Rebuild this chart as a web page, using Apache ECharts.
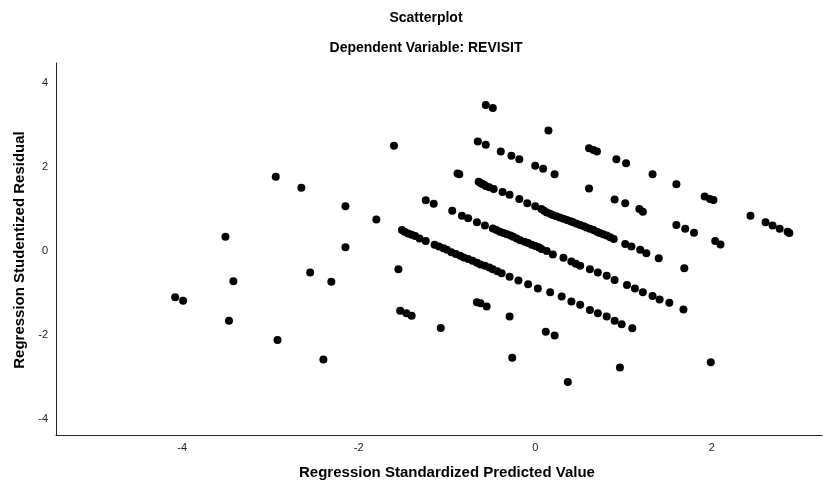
<!DOCTYPE html>
<html>
<head>
<meta charset="utf-8">
<script src="https://cdn.jsdelivr.net/npm/echarts@6/dist/echarts.min.js"></script>
<style>html,body{margin:0;padding:0;background:#fff}#c{width:823px;height:486px}</style>
</head>
<body>
<div id="c"></div>
<script>
var xTicks = [-4, -2, 0, 2];
var yTicks = [-4, -2, 0, 2, 4];

var bandA = [[-0.64,1.64],[-0.62,1.61],[-0.60,1.59],[-0.58,1.57],[-0.56,1.54],[-0.52,1.51],[-0.47,1.47],[-0.37,1.40],[-0.29,1.33],[-0.18,1.23],[-0.09,1.13],[0.00,1.06],[0.07,0.99],[0.10,0.95],[0.13,0.91],[0.17,0.88],[0.20,0.85],[0.24,0.82],[0.28,0.79],[0.32,0.76],[0.36,0.73],[0.40,0.70],[0.43,0.68],[0.47,0.64],[0.51,0.61],[0.55,0.58],[0.58,0.55],[0.62,0.52],[0.66,0.49],[0.70,0.45],[0.73,0.42],[0.77,0.39],[0.81,0.36],[0.85,0.32],[0.89,0.28],[1.02,0.16],[1.09,0.10],[1.19,0.02],[1.26,-0.06],[1.40,-0.18]];

var bandB = [[-0.94,0.95],[-0.83,0.83],[-0.76,0.77],[-0.66,0.68],[-0.57,0.60],[-0.48,0.53],[-0.44,0.49],[-0.40,0.45],[-0.36,0.42],[-0.32,0.39],[-0.28,0.36],[-0.25,0.33],[-0.21,0.29],[-0.17,0.25],[-0.12,0.21],[-0.08,0.18],[-0.04,0.14],[0.00,0.11],[0.04,0.08],[0.07,0.04],[0.13,-0.01],[0.20,-0.09],[0.32,-0.17],[0.41,-0.26],[0.46,-0.31],[0.51,-0.36],[0.62,-0.44],[0.71,-0.52],[0.81,-0.60],[0.90,-0.70],[1.04,-0.82],[1.13,-0.90],[1.22,-0.99],[1.33,-1.08],[1.41,-1.16],[1.52,-1.24],[1.68,-1.40]];

var bandC = [[-1.51,0.49],[-1.48,0.45],[-1.44,0.41],[-1.40,0.38],[-1.36,0.35],[-1.31,0.29],[-1.24,0.23],[-1.14,0.14],[-1.09,0.10],[-1.04,0.06],[-1.00,0.02],[-0.95,-0.04],[-0.90,-0.08],[-0.85,-0.12],[-0.81,-0.16],[-0.76,-0.20],[-0.71,-0.24],[-0.66,-0.29],[-0.62,-0.33],[-0.57,-0.36],[-0.52,-0.40],[-0.48,-0.44],[-0.43,-0.49],[-0.38,-0.54],[-0.29,-0.62],[-0.19,-0.71],[-0.08,-0.80],[0.03,-0.90],[0.17,-0.99],[0.30,-1.09],[0.41,-1.21],[0.51,-1.29],[0.62,-1.41],[0.71,-1.49],[0.81,-1.57],[0.90,-1.67],[0.98,-1.75],[1.10,-1.85]];

var scattered = [[-4.08,-1.11],[-3.99,-1.19],[-3.42,-0.73],[-3.47,-1.67],[-2.92,-2.13],[-2.55,-0.52],[-2.31,-0.74],[-2.40,-2.59],[-1.55,-0.44],[-1.53,-1.43],[-1.46,-1.49],[-1.40,-1.55],[-1.07,-1.84],
[-3.51,0.33],[-2.94,1.76],[-2.65,1.50],[-2.15,1.06],[-2.15,0.08],[-1.80,0.74],[-1.60,2.50],[-1.24,1.20],[-1.15,1.12],
[-0.56,3.47],[-0.48,3.40],[0.15,2.86],[-0.65,2.60],[-0.56,2.52],[-0.39,2.36],[-0.27,2.26],[-0.18,2.18],[0.00,2.02],[0.09,1.95],[0.22,1.82],[-0.86,1.82],[-0.88,1.84],
[0.61,2.44],[0.66,2.40],[0.70,2.36],[0.92,2.18],[1.03,2.08],[0.61,1.48],[1.33,1.82],[1.60,1.58],[1.92,1.29],[1.98,1.23],[2.02,1.21],
[0.90,1.22],[1.02,1.13],[1.18,0.99],[1.22,0.93],[2.44,0.83],[2.61,0.68],[2.69,0.60],[2.77,0.52],[2.86,0.45],[2.88,0.42],[1.60,0.61],[1.70,0.52],[1.80,0.43],[2.04,0.23],[2.10,0.15],[1.69,-0.42],
[-0.66,-1.23],[-0.62,-1.25],[-0.55,-1.33],[-0.29,-1.57],[0.12,-1.93],[0.22,-2.02],[-0.26,-2.55],[0.96,-2.78],[0.37,-3.13],[1.99,-2.66]];

var allPoints = bandA.concat(bandB, bandC, scattered);

var chart = echarts.init(document.getElementById('c'), null, {renderer: 'canvas'});
var font = 'Liberation Sans, Arial, sans-serif';
chart.setOption({
  animation: false,
  backgroundColor: '#fff',
  grid: {left: 56, right: 1, top: 63, bottom: 51, containLabel: false},
  xAxis: {
    type: 'value', min: -5.43, max: 3.25,
    axisLine: {show: true, onZero: false, lineStyle: {color: '#222', width: 1}},
    axisTick: {show: false},
    splitLine: {show: false},
    axisLabel: {customValues: xTicks, color: '#222', fontSize: 11, fontFamily: font, margin: 7}
  },
  yAxis: {
    type: 'value', min: -4.39, max: 4.47,
    axisLine: {show: true, onZero: false, lineStyle: {color: '#222', width: 1}},
    axisTick: {show: false},
    splitLine: {show: false},
    axisLabel: {customValues: yTicks, color: '#222', fontSize: 11, fontFamily: font, margin: 8}
  },
  graphic: [
    {type: 'text', x: 426, y: 18, style: {text: 'Scatterplot', fill: '#000', font: 'bold 14px ' + font, textAlign: 'center', textVerticalAlign: 'middle'}},
    {type: 'text', x: 426, y: 48, style: {text: 'Dependent Variable: REVISIT', fill: '#000', font: 'bold 14px ' + font, textAlign: 'center', textVerticalAlign: 'middle'}},
    {type: 'text', x: 447, y: 473, style: {text: 'Regression Standardized Predicted Value', fill: '#000', font: 'bold 15px ' + font, textAlign: 'center', textVerticalAlign: 'middle'}},
    {type: 'text', x: 20, y: 250, rotation: Math.PI / 2, style: {text: 'Regression Studentized Residual', fill: '#000', font: 'bold 15px ' + font, textAlign: 'center', textVerticalAlign: 'middle'}}
  ],
  series: [{
    type: 'scatter',
    data: allPoints,
    symbol: 'circle',
    symbolSize: 8,
    itemStyle: {color: '#000', opacity: 1},
    emphasis: {disabled: true}
  }]
});
</script>
</body>
</html>
